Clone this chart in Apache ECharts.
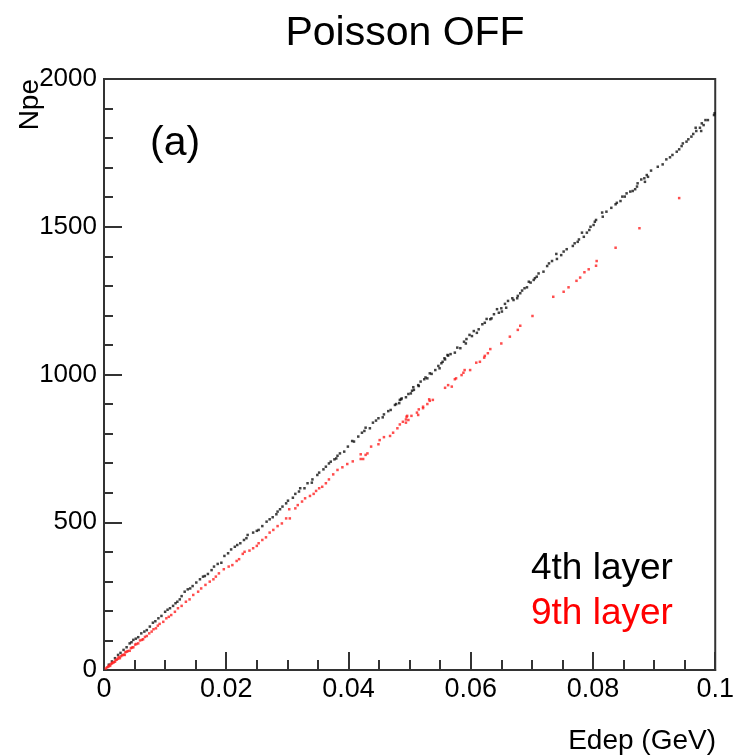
<!DOCTYPE html>
<html>
<head>
<meta charset="utf-8">
<script src="https://cdn.jsdelivr.net/npm/echarts@6/dist/echarts.min.js"></script>
<style>
html,body{margin:0;padding:0;background:#fff;}
#chart{width:737px;height:756px;}
</style>
</head>
<body>
<div id="chart"></div>
<script>
// ---- data ----
const layer4Edep = [0.0008,0.0013,0.0018,0.0023,0.0027,0.0032,0.0037,0.0042,0.0045,0.0048,0.0052,0.0056,0.0061,0.0066,0.0070,0.0075,0.0080,0.0084,0.0089,0.0094,0.0100,0.0104,0.0108,0.0113,0.0117,0.0120,0.0124,0.0127,0.0132,0.0137,0.0141,0.0145,0.0151,0.0157,0.0162,0.0165,0.0170,0.0176,0.0180,0.0186,0.0192,0.0197,0.0203,0.0208,0.0214,0.0218,0.0223,0.0229,0.0233,0.0235,0.0244,0.0250,0.0253,0.0259,0.0266,0.0271,0.0276,0.0282,0.0284,0.0288,0.0292,0.0298,0.0301,0.0309,0.0313,0.0319,0.0321,0.0328,0.0333,0.0340,0.0341,0.0349,0.0352,0.0359,0.0363,0.0368,0.0371,0.0377,0.0380,0.0382,0.0386,0.0393,0.0399,0.0406,0.0409,0.0416,0.0422,0.0426,0.0428,0.0435,0.0440,0.0445,0.0449,0.0456,0.0458,0.0465,0.0469,0.0476,0.0478,0.0483,0.0484,0.0486,0.0487,0.0494,0.0498,0.0502,0.0504,0.0506,0.0507,0.0514,0.0515,0.0518,0.0524,0.0526,0.0529,0.0533,0.0536,0.0542,0.0547,0.0549,0.0552,0.0554,0.0557,0.0558,0.0562,0.0563,0.0567,0.0574,0.0578,0.0583,0.0589,0.0592,0.0593,0.0598,0.0602,0.0605,0.0610,0.0613,0.0619,0.0623,0.0626,0.0632,0.0634,0.0638,0.0643,0.0646,0.0650,0.0651,0.0656,0.0658,0.0661,0.0668,0.0670,0.0676,0.0677,0.0681,0.0684,0.0688,0.0692,0.0695,0.0698,0.0703,0.0705,0.0708,0.0711,0.0719,0.0725,0.0728,0.0733,0.0740,0.0741,0.0748,0.0752,0.0757,0.0767,0.0770,0.0775,0.0777,0.0782,0.0785,0.0790,0.0794,0.0796,0.0801,0.0803,0.0805,0.0815,0.0816,0.0822,0.0830,0.0837,0.0839,0.0845,0.0848,0.0852,0.0855,0.0861,0.0865,0.0869,0.0872,0.0873,0.0879,0.0884,0.0885,0.0888,0.0890,0.0895,0.0906,0.0914,0.0920,0.0926,0.0930,0.0937,0.0941,0.0945,0.0947,0.0953,0.0956,0.0961,0.0964,0.0968,0.0969,0.0975,0.0977,0.0978,0.0981,0.0984,0.0988,0.0998,0.0999];
const layer4Npe = [18,29,40,51,58,68,77,90,94,102,106,111,124,130,135,147,160,165,175,183,197,204,209,217,226,231,239,250,265,273,276,284,296,307,316,318,325,338,350,359,363,386,395,408,417,423,429,440,446,457,465,471,474,487,502,510,517,527,536,544,553,564,573,583,596,604,615,615,632,634,645,660,668,679,688,699,705,713,716,725,733,739,756,775,773,790,803,809,820,818,837,844,852,855,865,876,880,897,900,903,914,916,919,923,934,936,945,957,948,964,961,976,984,990,987,1004,1002,1015,1029,1021,1038,1043,1055,1051,1066,1064,1069,1074,1091,1089,1111,1105,1120,1134,1130,1147,1141,1153,1170,1175,1188,1187,1190,1204,1221,1209,1224,1213,1239,1226,1249,1258,1252,1258,1266,1275,1284,1292,1295,1314,1311,1320,1326,1331,1342,1348,1367,1376,1384,1408,1391,1404,1416,1424,1435,1444,1449,1457,1480,1466,1480,1489,1500,1506,1517,1523,1548,1534,1551,1564,1576,1581,1587,1602,1602,1613,1619,1621,1627,1636,1647,1660,1664,1652,1675,1669,1690,1703,1711,1728,1735,1743,1754,1762,1773,1782,1788,1796,1805,1814,1835,1824,1835,1824,1850,1844,1861,1861,1878,1884];

const layer9Edep = [0.0003,0.0005,0.0007,0.0008,0.0010,0.0011,0.0013,0.0014,0.0016,0.0018,0.0019,0.0021,0.0023,0.0024,0.0026,0.0028,0.0030,0.0032,0.0034,0.0035,0.0037,0.0039,0.0042,0.0044,0.0046,0.0048,0.0051,0.0053,0.0056,0.0059,0.0062,0.0064,0.0067,0.0070,0.0074,0.0078,0.0081,0.0085,0.0088,0.0091,0.0097,0.0102,0.0106,0.0110,0.0116,0.0121,0.0127,0.0134,0.0140,0.0146,0.0154,0.0159,0.0166,0.0173,0.0179,0.0183,0.0188,0.0196,0.0204,0.0210,0.0217,0.0221,0.0227,0.0230,0.0238,0.0244,0.0250,0.0253,0.0259,0.0265,0.0271,0.0277,0.0284,0.0291,0.0298,0.0303,0.0304,0.0313,0.0317,0.0324,0.0329,0.0337,0.0343,0.0347,0.0352,0.0357,0.0363,0.0368,0.0375,0.0382,0.0390,0.0398,0.0407,0.0420,0.0420,0.0424,0.0428,0.0431,0.0437,0.0449,0.0451,0.0458,0.0468,0.0473,0.0480,0.0484,0.0489,0.0494,0.0494,0.0495,0.0496,0.0498,0.0503,0.0512,0.0514,0.0515,0.0522,0.0522,0.0529,0.0532,0.0533,0.0538,0.0558,0.0563,0.0569,0.0574,0.0576,0.0585,0.0588,0.0590,0.0599,0.0609,0.0615,0.0622,0.0623,0.0628,0.0632,0.0650,0.0664,0.0677,0.0681,0.0701,0.0735,0.0752,0.0760,0.0773,0.0779,0.0786,0.0793,0.0805,0.0806,0.0837,0.0876,0.0941];
const layer9Npe = [5,9,11,15,14,20,22,25,26,28,34,35,38,44,40,47,50,52,51,60,62,64,65,74,76,77,86,88,90,100,102,104,112,115,124,130,138,141,150,156,163,175,180,186,197,209,217,231,239,254,265,276,288,299,307,316,327,341,350,355,369,375,393,400,404,412,420,429,440,449,465,474,487,496,513,544,513,547,558,570,581,589,596,606,615,620,632,645,662,677,686,697,706,714,730,714,728,733,756,764,778,788,792,803,818,831,840,837,848,857,860,846,860,871,863,882,886,891,900,916,911,914,955,964,959,984,987,998,1006,1015,1015,1040,1043,1057,1063,1072,1086,1105,1128,1151,1165,1198,1263,1280,1295,1317,1328,1346,1356,1368,1384,1429,1495,1597];

const xTickLabels = ['0','0.02','0.04','0.06','0.08','0.1'];
const yTickLabels = ['0','500','1000','1500','2000'];
const seriesNames = ['4th layer','9th layer'];
const titleText = 'Poisson OFF';
const xTitle = 'Edep (GeV)';
const yTitle = 'Npe';
const panelLabel = '(a)';

// ---- chart ----
const FONT = '"Liberation Sans", Arial, Helvetica, sans-serif';
const AX = '#333';
const chart = echarts.init(document.getElementById('chart'), null, {renderer:'canvas'});

function zip(a,b){ return a.map((v,i)=>[v,b[i]]); }

const option = {
  animation: false,
  backgroundColor: '#fff',
  grid: {left:104, top:79, right:20, bottom:86, show:true, borderColor:AX, borderWidth:2, backgroundColor:'transparent'},
  xAxis: {
    type:'value', min:0, max:0.1, interval:0.02,
    axisLine:{show:true, onZero:false, lineStyle:{color:AX, width:2}},
    axisTick:{show:true, inside:true, length:18, lineStyle:{color:AX, width:2}},
    minorTick:{show:true, splitNumber:4, length:10, lineStyle:{color:AX, width:2}},
    splitLine:{show:false},
    axisLabel:{fontSize:27, color:'#000', fontFamily:FONT, margin:6,
      formatter:(v)=>{const i=Math.round(v/0.02); return xTickLabels[i]!==undefined?xTickLabels[i]:'';}}
  },
  yAxis: {
    type:'value', min:0, max:2000, interval:500,
    axisLine:{show:true, onZero:false, lineStyle:{color:AX, width:2}},
    axisTick:{show:true, inside:true, length:18, lineStyle:{color:AX, width:2}},
    minorTick:{show:true, splitNumber:5, length:9, lineStyle:{color:AX, width:2}},
    splitLine:{show:false},
    axisLabel:{fontSize:26, color:'#000', fontFamily:FONT, margin:7,
      formatter:(v)=>{const i=Math.round(v/500); return yTickLabels[i]!==undefined?yTickLabels[i]:'';}}
  },
  series: [
    {name:seriesNames[0], type:'scatter', data:zip(layer4Edep, layer4Npe), symbol:'rect', symbolSize:2.5,
     itemStyle:{color:'#111'}, silent:true},
    {name:seriesNames[1], type:'scatter', data:zip(layer9Edep, layer9Npe), symbol:'rect', symbolSize:2.5,
     itemStyle:{color:'#ff2020'}, silent:true}
  ],
  graphic: [
    {type:'text', x:405, y:34, style:{text:titleText, font:'41px '+FONT, fill:'#000', align:'center', verticalAlign:'middle'}},
    {type:'text', x:150, y:144, style:{text:panelLabel, font:'41px '+FONT, fill:'#000', align:'left', verticalAlign:'middle'}},
    {type:'text', x:531, y:569, style:{text:seriesNames[0], font:'37px '+FONT, fill:'#000', align:'left', verticalAlign:'middle'}},
    {type:'text', x:531, y:614, style:{text:seriesNames[1], font:'37px '+FONT, fill:'#ff0000', align:'left', verticalAlign:'middle'}},
    {type:'text', x:30, y:79, rotation:Math.PI/2, style:{text:yTitle, font:'28px '+FONT, fill:'#000', align:'right', verticalAlign:'middle'}},
    {type:'text', x:716, y:741, style:{text:xTitle, font:'28px '+FONT, fill:'#000', align:'right', verticalAlign:'middle'}}
  ]
};
chart.setOption(option);
</script>
</body>
</html>
